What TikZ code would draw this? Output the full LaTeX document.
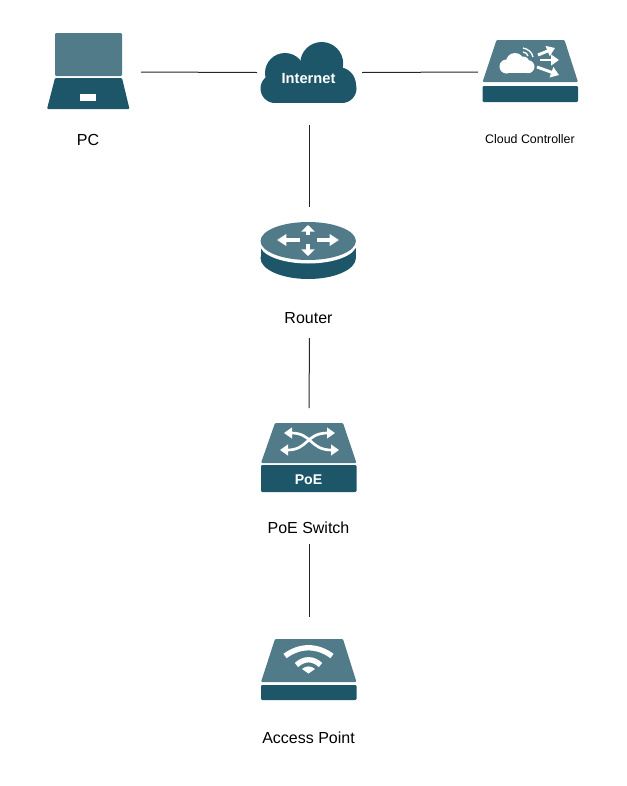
\documentclass[tikz,border=0pt]{standalone}
\usepackage{fontspec}
\setmainfont{Liberation Sans}
\usetikzlibrary{arrows.meta}
\definecolor{iconlight}{HTML}{527B89}
\definecolor{icondark}{HTML}{1D5669}
\tikzset{%
  % Specifications for style of nodes:
  device/.style = {inner sep=0pt, outer sep=0pt},
  caption/.style = {inner sep=0pt, font=\fontsize{12}{14}\selectfont, text=black},
  onicon/.style = {inner sep=0pt, text=white, font=\bfseries\fontsize{10.6}{12}\selectfont},
  norm/.style = {draw, black!85, line width=0.75pt},
  top/.style = {fill=iconlight, rounded corners=0.8pt},
  band/.style = {fill=icondark, rounded corners=0.8pt},
  flow/.style = {draw=white, line width=2.2pt, -{Triangle[length=6pt,width=8pt]}},
  flowv/.style = {draw=white, line width=3.6pt, -{Triangle[length=5pt,width=10pt]}},
  flowh/.style = {draw=white, line width=2.8pt, -{Triangle[length=7pt,width=8.5pt]}},
  cross/.style = {draw=white, line width=2pt, {Triangle[length=6pt,width=8pt]}-{Triangle[length=6pt,width=8pt]}},
  wave/.style = {draw=white, line width=4pt},
}
% x, top y, edge y, band top y, band bottom y
\newcommand{\devslab}[5]{
  \fill [top] (#1-33.5,#2) -- (#1+34.5,#2) -- (#1+48,#3) -- (#1-47.5,#3) -- cycle;
  \fill [band] (#1-47.5,#4) rectangle (#1+48,#5);
}
\begin{document}
\begin{tikzpicture}[x=0.75pt, y=-0.75pt]
  \useasboundingbox (0,0) rectangle (627,786);

  % PC
  \fill [top] (55,33) rectangle (122,76);
  \fill [band] (55,78) -- (122,78) -- (129.5,109) -- (47,109) -- cycle;
  \fill [white] (80,94) rectangle (96,101);

  % Internet
  \foreach \cx/\cy/\cr in {275/88.5/14.5, 342/88.5/14.5, 285/73/20, 321.7/63.5/21.5, 338/85/18}
    \fill [icondark] (\cx,\cy) circle (\cr);
  \fill [icondark] (275,75) rectangle (342,103);
  \node (internetlabel) [onicon, font=\bfseries\fontsize{11}{12}\selectfont] at (308.5,79) {Internet};

  % Cloud controller
  \devslab{530}{40}{82}{86}{102}
  \foreach \cx/\cy/\cr in {506.5/66.5/7, 528/66.7/6.5, 515/62/9, 523/63/6.5}
    \fill [white] (\cx,\cy) circle (\cr);
  \fill [white] (506.5,62) rectangle (528,73.3);
  \draw [flow] (538,55) -- (555,48);
  \draw [flow] (540,60) -- (559,60);
  \draw [flow] (537,67) -- (559,75);
  \draw [white, line width=1pt] (523,48) .. controls (528,49) and (532,52) .. (533,57);
  \draw [white, line width=1pt] (523,52) .. controls (525,52) and (528,54) .. (528,56);

  % Router
  \fill [icondark] (260.5,243) rectangle (356,258);
  \fill [icondark] (308.2,258) ellipse (47.7 and 21);
  \fill [white] (308.2,244) ellipse (48.5 and 19.5);
  \fill [iconlight] (308.2,241) ellipse (47.7 and 19);
  \draw [flowv] (308,235) -- (308,225);
  \draw [flowv] (308,244) -- (308,256);
  \draw [flowh] (300,240) -- (277,240);
  \draw [flowh] (317,240) -- (339,240);

  % PoE switch
  \devslab{308.5}{423}{463}{465}{492}
  \draw [cross] (284,433) .. controls (312,433) and (310,450) .. (339,450);
  \draw [cross] (280,450) .. controls (308,450) and (306,433) .. (335,433);
  \node (poe) [onicon] at (308.5,480) {PoE};

  % Access point
  \devslab{308.5}{639}{682}{685}{700}
  \draw [wave] (285,656) .. controls (300,645) and (317,645) .. (332,656);
  \draw [wave] (296.5,665) .. controls (304,658) and (313,658) .. (320.5,665);
  \fill [white] (302,669) .. controls (306,665.5) and (311,665.5) .. (315,669) -- (308.5,673.5) -- cycle;

  % Nodes that hold the icons
  \node (pc) [device, minimum width=79.5pt, minimum height=60pt] at (88,72) {};
  \node (internet) [device, minimum width=78.75pt, minimum height=78.75pt] at (309.5,72.5) {};
  \node (ctrl) [device, minimum width=78pt, minimum height=60pt] at (530,72) {};
  \node (router) [device, minimum width=60pt, minimum height=98.25pt] at (309.5,272.5) {};
  \node (switch) [device, minimum width=60pt, minimum height=102pt] at (309,476) {};
  \node (ap) [device, minimum width=60pt, minimum height=90pt] at (309,677) {};

  % Captions
  \node (pclabel) [caption] at (88,140) {PC};
  \node (ctrllabel) [caption, font=\fontsize{9.3}{11}\selectfont] at (530,139) {Cloud Controller};
  \node (routerlabel) [caption] at (308.5,318) {Router};
  \node (switchlabel) [caption] at (308.5,528) {PoE Switch};
  \node (aplabel) [caption] at (308.5,738) {Access Point};

  % Links
  \draw [norm] (pc.east) -- (internet.west);
  \draw [norm] (internet.east) -- (ctrl.west);
  \draw [norm] (internet.south) -- (router.north);
  \draw [norm] (router.south) -- (switch.north);
  \draw [norm] (switch.south) -- (ap.north);
\end{tikzpicture}
\end{document}
